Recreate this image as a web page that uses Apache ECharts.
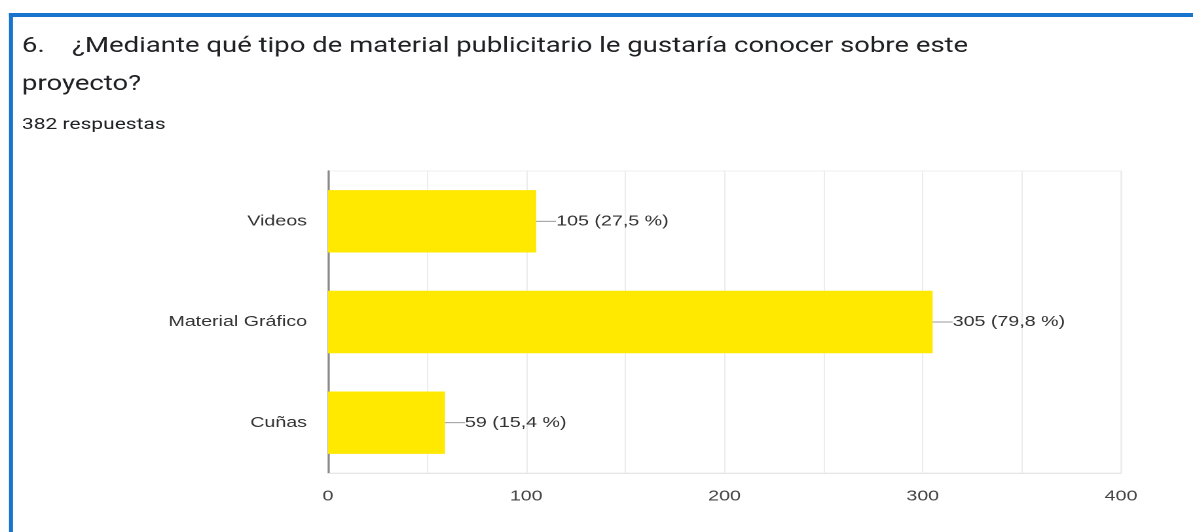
<!DOCTYPE html>
<html><head><meta charset="utf-8">
<script src="https://cdn.jsdelivr.net/npm/echarts@6/dist/echarts.min.js"></script>
<style>
html,body{margin:0;padding:0;background:#fff;overflow:hidden}
#wrap{width:1193px;height:532px;overflow:hidden;position:relative}
#c{width:911px;height:532px;transform:scaleX(1.30955);transform-origin:0 0}
</style>
</head><body><div id="wrap"><div id="c"></div></div>
<script>
const categories = ['Videos', 'Material Gráfico', 'Cuñas'];
const counts = [105, 305, 59];
const percents = ['27,5', '79,8', '15,4'];
const titleLine1 = '6.    ¿Mediante qué tipo de material publicitario le gustaría conocer sobre este';
const titleLine2 = 'proyecto?';
const responses = '382 respuestas';

const S = 1193 / 911; // horizontal stretch of the reference picture
const chart = echarts.init(document.getElementById('c'), null, { devicePixelRatio: 2 });
chart.setOption({
  animation: false,
  backgroundColor: '#fff',
  graphic: [
    { type: 'rect', shape: { x: 9 / S, y: 13, width: 1200 / S, height: 4 }, style: { fill: '#1874cd' } },
    { type: 'rect', shape: { x: 9 / S, y: 13, width: 4 / S, height: 519 }, style: { fill: '#1874cd' } },
    { type: 'text', left: 22 / S, top: 36, style: { text: titleLine1, font: '21px Roboto', fill: '#202124' } },
    { type: 'text', left: 22 / S, top: 74, style: { text: titleLine2, font: '21px Roboto', fill: '#202124' } },
    { type: 'text', left: 22 / S, top: 117, style: { text: responses, font: '16px Roboto', fill: '#202124' } }
  ],
  grid: { left: 328 / S, right: 72 / S, top: 171, bottom: 59, show: true, borderColor: '#f0f0f0', borderWidth: 1 },
  xAxis: {
    type: 'value', min: 0, max: 400, interval: 50,
    axisLine: { show: true, lineStyle: { color: '#e6e6e6', width: 1 } },
    axisTick: { show: false },
    splitLine: { lineStyle: { color: '#ececec', width: 1 } },
    axisLabel: { color: '#444', fontSize: 15, fontFamily: 'Liberation Sans', margin: 16,
      formatter: v => (v % 100 === 0 ? String(v) : '') }
  },
  yAxis: {
    type: 'category', data: categories, inverse: true,
    axisLine: { show: true, lineStyle: { color: '#8a8a8a', width: 1.6 } },
    axisTick: { show: false },
    axisLabel: { color: '#333', fontSize: 15, fontFamily: 'Liberation Sans', margin: 21 / S }
  },
  series: [{
    type: 'bar', data: counts, barCategoryGap: '38%',
    itemStyle: { color: '#ffe900' },
    label: {
      show: true, position: 'right', distance: 0,
      formatter: p => '{ln|}{t|' + counts[p.dataIndex] + ' (' + percents[p.dataIndex] + ' %)}',
      rich: {
        ln: { width: 20 / S, height: 1, backgroundColor: '#999' },
        t: { color: '#333', fontSize: 15, fontFamily: 'Liberation Sans' }
      }
    }
  }]
});
</script></body></html>
